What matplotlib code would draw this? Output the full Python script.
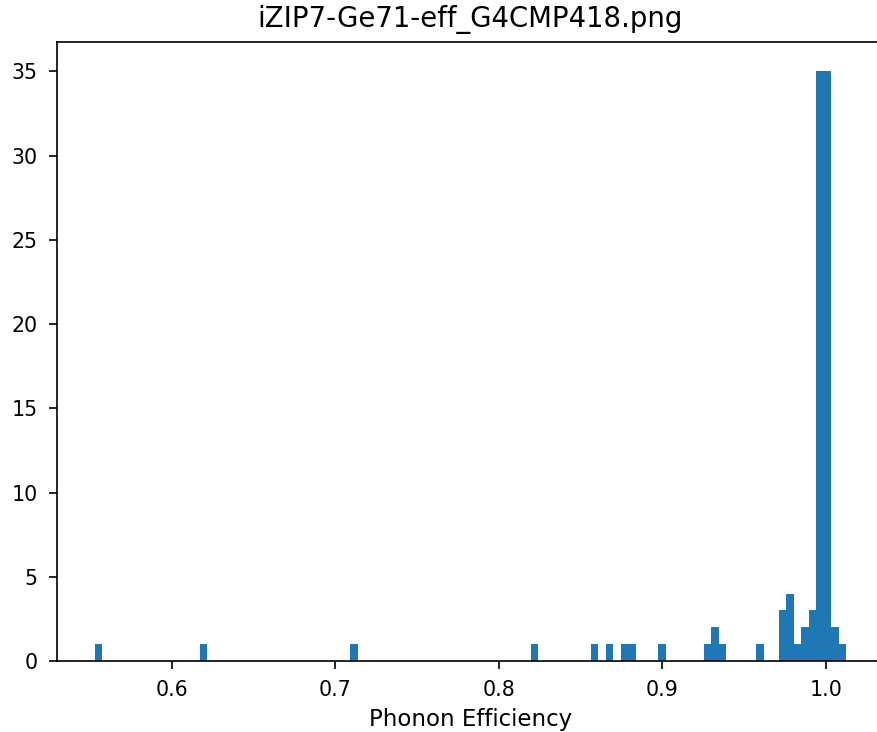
import numpy as np
import matplotlib
matplotlib.use('Agg')
import matplotlib.pyplot as plt

# ── Phonon efficiency values and how often each occurs
eff_values = [0.5526, 0.6193, 0.7113, 0.8218, 0.8586, 0.8678, 0.8770, 0.8816,
              0.9000, 0.9276, 0.9322, 0.9368, 0.9598, 0.9736, 0.9782, 0.9828,
              0.9874, 0.9920, 0.9966, 1.0012, 1.0058, 1.0127]
eff_counts = [1, 1, 1, 1, 1, 1, 1, 1,
              1, 1, 2, 1, 1, 3, 4, 1,
              2, 3, 35, 35, 2, 1]

N_BINS = 100
TITLE = 'iZIP7-Ge71-eff_G4CMP418.png'
XLABEL = 'Phonon Efficiency'

# ── Sizes scaled to match the enlarged screenshot ────────────────────────────
plt.rcParams['font.size'] = 14.8
plt.rcParams['axes.linewidth'] = 1.2
for ax_name in ('xtick', 'ytick'):
    plt.rcParams[f'{ax_name}.major.size'] = 6
    plt.rcParams[f'{ax_name}.major.width'] = 1.2
    plt.rcParams[f'{ax_name}.major.pad'] = 8

samples = np.repeat(eff_values, eff_counts)

fig = plt.figure(figsize=(8.78, 7.32), dpi=100)
# axes runs past the right edge, as in the cropped original
ax = fig.add_axes([57 / 878, 1 - 661 / 732, 827 / 878, 619 / 732])

ax.hist(samples, bins=N_BINS)
ax.set_xlabel(XLABEL, fontsize=16.5, labelpad=5.5)
ax.set_title(TITLE, fontsize=19.8, pad=10.5)

fig.savefig('out.png', dpi=100)
